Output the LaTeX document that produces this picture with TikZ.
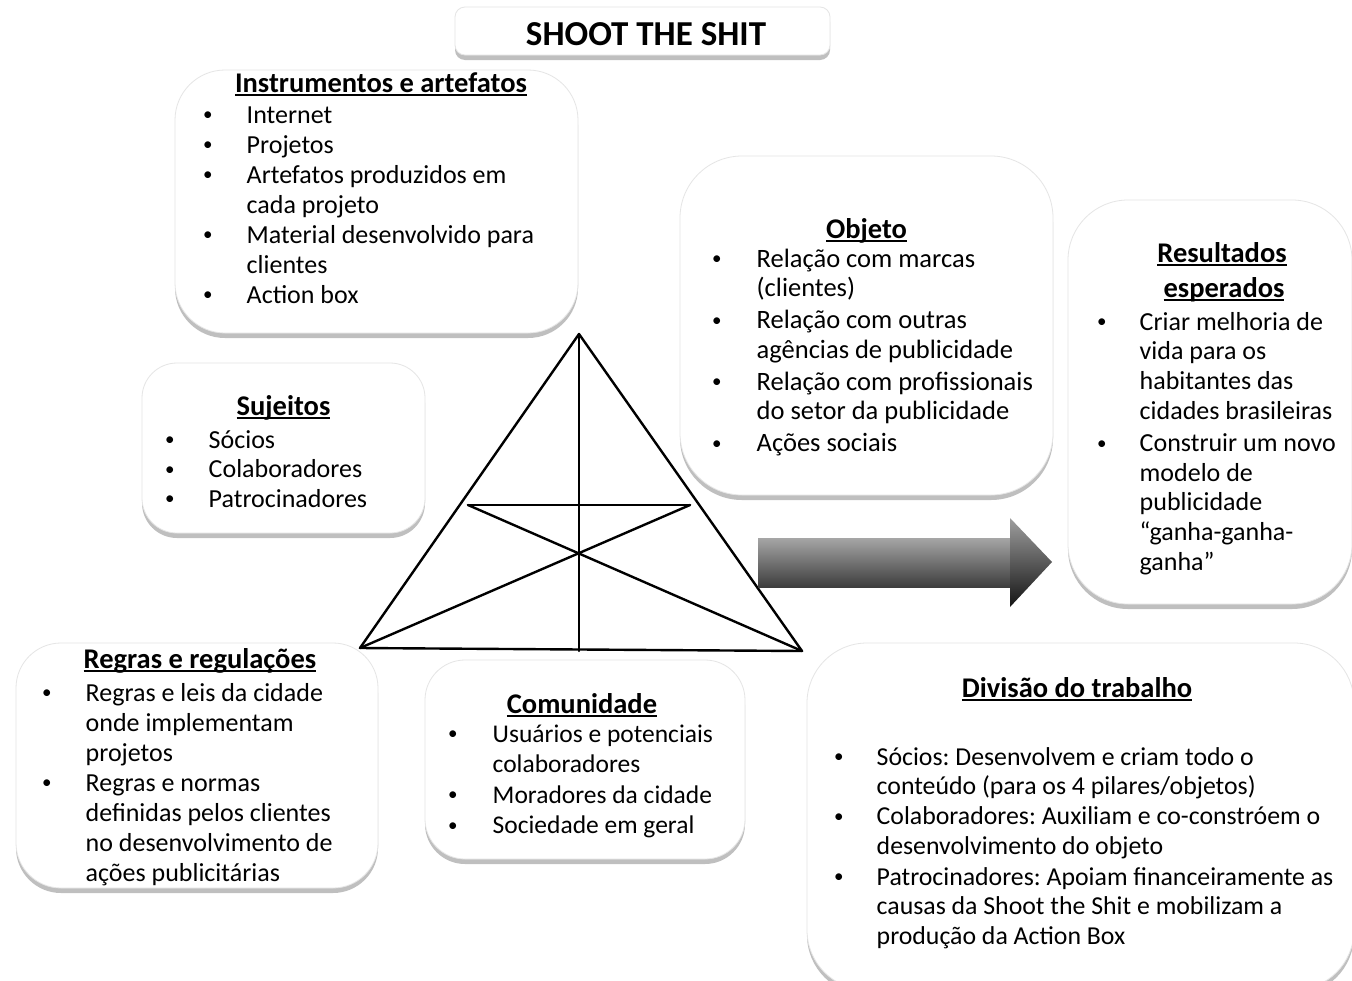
\documentclass[tikz,border=0pt]{standalone}
\usepackage{fontspec}
\setmainfont{Carlito}
\usetikzlibrary{shadows}
\frenchspacing

% bullet column width, set per list
\newlength\bulw
\newcommand\bul{\makebox[\bulw][l]{\raisebox{2.2pt}{\fontsize{19}{19}\selectfont\textbullet}}}
% underlined heading text
\newsavebox\hdbox
\newcommand\hd[1]{\sbox\hdbox{#1}\rlap{\rule[-3.5pt]{\wd\hdbox}{1.8pt}}\usebox\hdbox}

\tikzset{
  panel/.style={rectangle, fill=white, draw=black!10, line width=0.8pt,
    drop shadow={shadow xshift=0pt, shadow yshift=-5pt, opacity=0.38, fill=black!65}},
  heading/.style={anchor=base, inner sep=0pt, font=\fontsize{28.5}{34}\selectfont\bfseries},
  listtext/.style={anchor=base west, inner sep=0pt},
  triline/.style={line width=2.4pt, line cap=round, line join=round},
}

\begin{document}
\begin{tikzpicture}[x=1pt, y=-1pt]
\useasboundingbox (0,0) rectangle (1352,980);
\fill[white] (0,0) rectangle (1352,980);
\clip (0,0) rectangle (1352,980);

% ---- panels ----
\node[panel, rounded corners=10pt, minimum width=375pt, minimum height=48pt] (titlebox) at (642.5,31) {};
\node[panel, rounded corners=50pt, minimum width=403pt, minimum height=263pt] (instrbox) at (376.5,201.5) {};
\node[panel, rounded corners=35pt, minimum width=283pt, minimum height=170pt] (sujbox) at (283.5,448) {};
\node[panel, rounded corners=62pt, minimum width=373pt, minimum height=339pt] (objbox) at (866.5,325.5) {};
\node[panel, rounded corners=60pt, minimum width=284pt, minimum height=404pt] (resbox) at (1210,402) {};
\node[panel, rounded corners=45pt, minimum width=362pt, minimum height=245pt] (regbox) at (197,765.5) {};
\node[panel, rounded corners=40pt, minimum width=320pt, minimum height=199pt] (combox) at (585,759.5) {};
\node[panel, rounded corners=60pt, minimum width=547pt, minimum height=347pt] (divbox) at (1080.5,816.5) {};

% ---- title ----
\node[anchor=base, inner sep=0pt, font=\fontsize{35}{42}\selectfont\bfseries] (title) at (646,45) {SHOOT THE SHIT};

% ---- Instrumentos e artefatos ----
\node[heading] (instrhd) at (381,92) {\hd{Instrumentos e artefatos}};
\node[listtext] (instrlist) at (203,123) {\fontsize{26}{30}\selectfont\setlength\bulw{43.5pt}%
\begin{tabular}[t]{@{}l@{}l@{}}
\bul & Internet\\
\bul & Projetos\\
\bul & Artefatos produzidos em\\
     & cada projeto\\
\bul & Material desenvolvido para\\
     & clientes\\
\bul & Action box
\end{tabular}};

% ---- Sujeitos ----
\node[heading] (sujhd) at (283.5,415) {\hd{Sujeitos}};
\node[listtext] (sujlist) at (165,448) {\fontsize{26}{29.5}\selectfont\setlength\bulw{43.5pt}%
\begin{tabular}[t]{@{}l@{}l@{}}
\bul & Sócios\\
\bul & Colaboradores\\
\bul & Patrocinadores
\end{tabular}};

% ---- Objeto ----
\node[heading] (objhd) at (866.5,238) {\hd{Objeto}};
\node[listtext] (objlist) at (712,267) {\fontsize{26.5}{29.5}\selectfont\setlength\bulw{44.5pt}%
\begin{tabular}[t]{@{}l@{}l@{}}
\bul & Relação com marcas\\
     & (clientes)\\[2.5pt]
\bul & Relação com outras\\
     & agências de publicidade\\[2.5pt]
\bul & Relação com profissionais\\
     & do setor da publicidade\\[2.5pt]
\bul & Ações sociais
\end{tabular}};

% ---- Resultados esperados ----
\node[heading] (reshdA) at (1222,262) {\hd{Resultados}};
\node[heading] (reshdB) at (1224,297) {\hd{esperados}};
\node[listtext] (reslist) at (1097,330) {\fontsize{26}{29.8}\selectfont\setlength\bulw{42.5pt}%
\begin{tabular}[t]{@{}l@{}l@{}}
\bul & Criar melhoria de\\
     & vida para os\\
     & habitantes das\\
     & cidades brasileiras\\[2pt]
\bul & Construir um novo\\
     & modelo de\\
     & publicidade\\
     & “ganha-ganha-\\
     & ganha”
\end{tabular}};

% ---- Regras e regulações ----
\node[heading] (reghd) at (200,668) {\hd{Regras e regulações}};
\node[listtext] (reglist) at (42,701) {\fontsize{26}{30}\selectfont\setlength\bulw{43.5pt}%
\begin{tabular}[t]{@{}l@{}l@{}}
\bul & Regras e leis da cidade\\
     & onde implementam\\
     & projetos\\
\bul & Regras e normas\\
     & definidas pelos clientes\\
     & no desenvolvimento de\\
     & ações publicitárias
\end{tabular}};

% ---- Comunidade ----
\node[heading] (comhd) at (582,713) {\hd{Comunidade}};
\node[listtext] (comlist) at (448,742) {\fontsize{25.5}{30.5}\selectfont\setlength\bulw{44.5pt}%
\begin{tabular}[t]{@{}l@{}l@{}}
\bul & Usuários e potenciais\\
     & colaboradores\\
\bul & Moradores da cidade\\
\bul & Sociedade em geral
\end{tabular}};

% ---- Divisão do trabalho ----
\node[heading] (divhd) at (1077,697) {\hd{Divisão do trabalho}};
\node[listtext] (divlist) at (834,765) {\fontsize{25.8}{29.5}\selectfont\setlength\bulw{42.5pt}%
\begin{tabular}[t]{@{}l@{}l@{}}
\bul & Sócios: Desenvolvem e criam todo o\\
     & conteúdo (para os 4 pilares/objetos)\\[0.5pt]
\bul & Colaboradores: Auxiliam e co-constróem o\\
     & desenvolvimento do objeto\\[1.5pt]
\bul & Patrocinadores: Apoiam financeiramente as\\
     & causas da Shoot the Shit e mobilizam a\\
     & produção da Action Box
\end{tabular}};

% ---- activity triangle ----
\coordinate (apex) at (579,334);
\coordinate (bl) at (360,648);
\coordinate (br) at (802,651);
\coordinate (foot) at (579,651);
\coordinate (hl) at (468,505);
\coordinate (hr) at (690,505);
\draw[triline] (apex) -- (bl) -- (br) -- cycle;
\draw[triline] (apex) -- (foot);
\draw[triline] (hl) -- (hr);
\draw[triline] (hl) -- (br);
\draw[triline] (hr) -- (bl);

% ---- shaded block arrow ----
\shade[top color=black!35, middle color=black!62, bottom color=black!76]
  (758,538) rectangle (1011,587);
\shade[top color=black!38, bottom color=black!92]
  (1010,518) -- (1052,562) -- (1010,607) -- cycle;
\end{tikzpicture}
\end{document}
